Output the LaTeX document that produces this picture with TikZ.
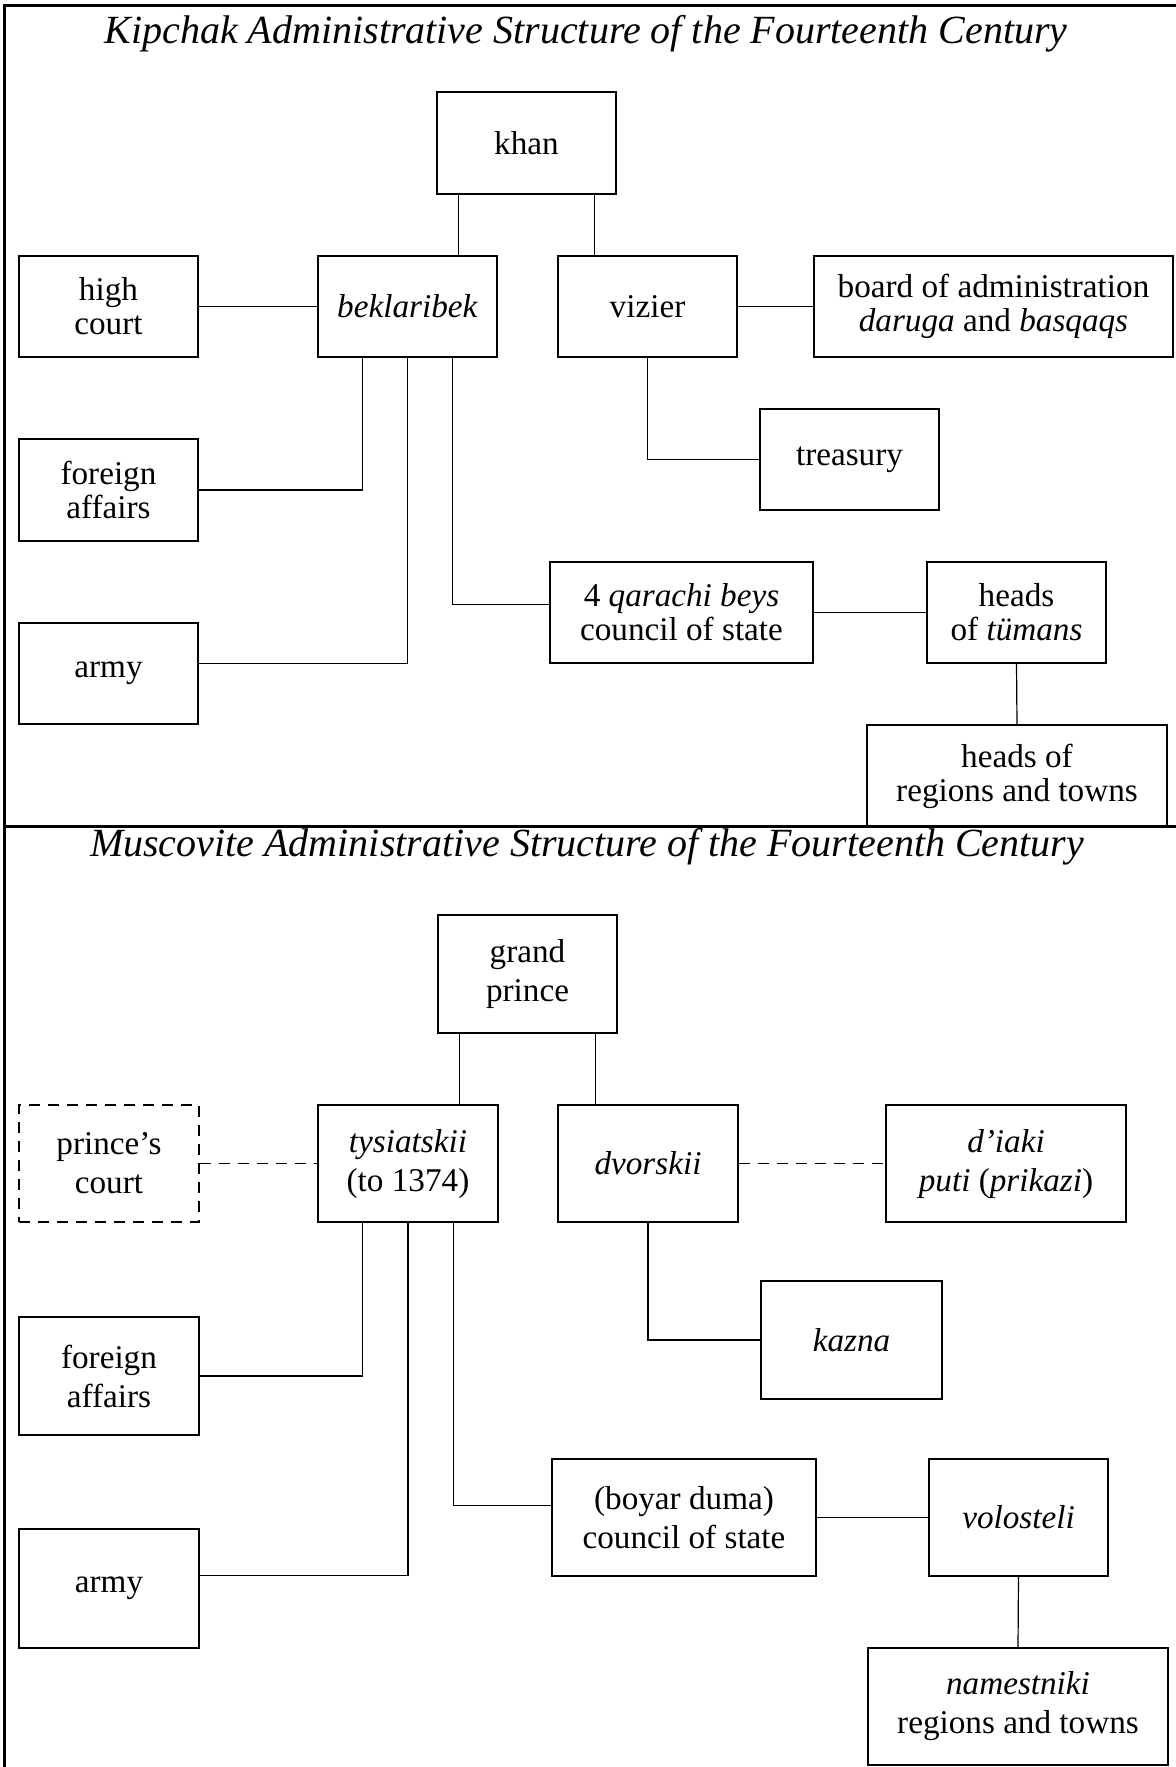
\documentclass[tikz,border=0pt]{standalone}
\usepackage{fontspec}
\setmainfont{Liberation Serif}
\usetikzlibrary{calc}
\begin{document}
\begin{tikzpicture}[x=0.5pt,y=-0.5pt,
 bx/.style={draw, line width=0.8pt, inner sep=0pt, align=center, font=\fontsize{16.6}{17}\selectfont},
 bxb/.style={bx, font=\fontsize{16.6}{19.5}\selectfont},
 wh/.style 2 args={minimum width=#1*0.5pt, minimum height=#2*0.5pt},
 conn/.style={line width=0.6pt},
 dconn/.style={line width=0.6pt, dash pattern=on 5.5pt off 4pt},
 frame/.style={line width=1.5pt},
 ttl/.style={font=\fontsize{20}{22}\selectfont\itshape, anchor=base, inner sep=0pt}]
\useasboundingbox (0,0) rectangle (1176,1767);
\fill[white] (0,0) rectangle (1176,1767);

% ---------- Kipchak ----------
\node[ttl] (t1) at (586,43) {Kipchak Administrative Structure of the Fourteenth Century};
\node[bx, wh={179}{102}] (khan) at (526.5,143) {khan};
\node[bx, wh={179}{101}] (hc) at (108.5,306.5) {high\\court};
\node[bx, wh={179}{101}] (bek) at (407.5,306.5) {\textit{beklaribek}};
\node[bx, wh={179}{101}] (viz) at (647.5,306.5) {vizier};
\node[bx, wh={359}{101}] (board) at (993.5,306.5) {board of administration\\\textit{daruga} and \textit{basqaqs}};
\node[bx, wh={179}{101}] (treas) at (849.5,459.5) {treasury};
\node[bx, wh={179}{102}] (fa) at (108.5,490) {foreign\\affairs};
\node[bx, wh={263}{101}] (qar) at (681.5,612.5) {4 \textit{qarachi beys}\\council of state};
\node[bx, wh={179}{101}] (tum) at (1016.5,612.5) {heads\\of \textit{tümans}};
\node[bx, wh={179}{101}] (army) at (108.5,673.5) {army};
\node[bx, wh={300}{102}] (reg) at (1017,776) {heads of\\regions and towns};

\coordinate (k1) at ($(khan.south west)!0.125!(khan.south east)$);
\coordinate (k2) at ($(khan.south west)!0.875!(khan.south east)$);
\draw[conn] (k1) -- (k1 |- bek.north);
\draw[conn] (k2) -- (k2 |- viz.north);
\draw[conn] (hc.east) -- (bek.west);
\draw[conn] (viz.east) -- (board.west);
\coordinate (b1) at ($(bek.south west)!0.25!(bek.south east)$);
\coordinate (b2) at ($(bek.south west)!0.5!(bek.south east)$);
\coordinate (b3) at ($(bek.south west)!0.75!(bek.south east)$);
\coordinate (armyin) at ($(army.north east)!0.4!(army.south east)$);
\coordinate (qarin) at ($(qar.north west)!0.42!(qar.south west)$);
\draw[conn] (b1) |- (fa.east);
\draw[conn] (b2) |- (armyin);
\draw[conn] (b3) |- (qarin);
\draw[conn] (viz.south) |- (treas.west);
\draw[conn] (qar.east) -- (tum.west);
\draw[conn] (tum.south) -- (reg.north);

% ---------- Muscovite ----------
\node[ttl] (t2) at (587,856) {Muscovite Administrative Structure of the Fourteenth Century};
\node[bxb, wh={179}{118}] (gp) at (527.5,974) {grand\\prince};
\node[bxb, wh={180}{117}, dash pattern=on 5.5pt off 4pt] (pc) at (109,1163.5) {prince’s\\court};
\node[bxb, wh={180}{117}] (tys) at (408,1163.5) {\textit{tysiatskii}\\(to 1374)};
\node[bxb, wh={180}{117}] (dvo) at (648,1163.5) {\textit{dvorskii}};
\node[bxb, wh={240}{117}] (dia) at (1006,1163.5) {\textit{d’iaki}\\\textit{puti} (\textit{prikazi})};
\node[bxb, wh={181}{118}] (kaz) at (851.5,1340) {\textit{kazna}};
\node[bxb, wh={180}{118}] (fa2) at (109,1376) {foreign\\affairs};
\node[bxb, wh={264}{117}] (boy) at (684,1517.5) {(boyar duma)\\council of state};
\node[bxb, wh={179}{117}] (vol) at (1018.5,1517.5) {\textit{volosteli}};
\node[bxb, wh={180}{119}] (army2) at (109,1588.5) {army};
\node[bxb, wh={300}{117}] (nam) at (1018,1706.5) {\textit{namestniki}\\regions and towns};

\coordinate (g1) at ($(gp.south west)!0.125!(gp.south east)$);
\coordinate (g2) at ($(gp.south west)!0.875!(gp.south east)$);
\draw[conn] (g1) -- (g1 |- tys.north);
\draw[conn] (g2) -- (g2 |- dvo.north);
\draw[dconn] (pc.east) -- (tys.west);
\draw[dconn] (dvo.east) -- (dia.west);
\coordinate (s1) at ($(tys.south west)!0.25!(tys.south east)$);
\coordinate (s2) at ($(tys.south west)!0.5!(tys.south east)$);
\coordinate (s3) at ($(tys.south west)!0.75!(tys.south east)$);
\coordinate (army2in) at ($(army2.north east)!0.39!(army2.south east)$);
\coordinate (boyin) at ($(boy.north west)!0.4!(boy.south west)$);
\draw[conn] (s1) |- (fa2.east);
\draw[conn] (s2) |- (army2in);
\draw[conn] (s3) |- (boyin);
\draw[conn] (dvo.south) |- (kaz.west);
\draw[conn] (boy.east) -- (vol.west);
\draw[conn] (vol.south) -- (nam.north);

% ---------- frame ----------
\draw[frame] (4,1767) -- (4,5) -- (1176,5);
\draw[frame] (4,826) -- (1176,826);
\end{tikzpicture}
\end{document}
